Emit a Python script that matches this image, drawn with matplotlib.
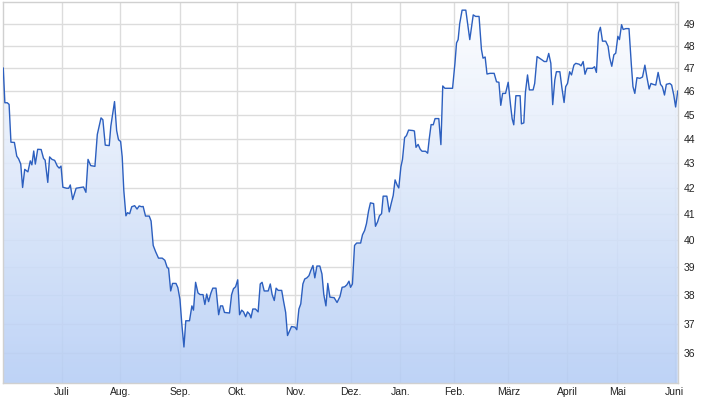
import numpy as np
import matplotlib
matplotlib.use("Agg")
from matplotlib import pyplot as plt
from matplotlib.colors import LinearSegmentedColormap
from matplotlib.ticker import NullLocator

plt.rcParams['font.family'] = ['Liberation Sans', 'DejaVu Sans']

# session number (trading days since start) and price
sessions = [
    0, 0.6, 1.5, 2.2, 2.9, 4.2, 5.1, 5.8, 6.6, 7.3,
    8.1, 9.3, 10.2, 10.8, 11.5, 12.1, 13.0, 14.3, 15.2, 15.8,
    16.8, 17.5, 18.4, 19.4, 20.4, 21.1, 21.8, 22.5, 23.9, 24.7,
    25.3, 26.2, 27.5, 29.7, 30.3, 31.2, 32.0, 33.0, 34.6, 35.5,
    36.9, 37.6, 38.5, 40.0, 40.6, 42.0, 42.8, 43.5, 44.3, 44.9,
    45.5, 46.3, 46.9, 47.7, 48.5, 49.6, 50.5, 51.3, 52.2, 52.8,
    53.7, 55.1, 55.8, 56.6, 57.5, 58.6, 60.0, 61.0, 61.9, 62.4,
    63.2, 63.9, 65.2, 65.9, 66.7, 67.4, 68.2, 68.9, 70.3, 71.2,
    71.8, 72.6, 73.5, 74.3, 75.4, 76.1, 76.8, 77.5, 78.4, 79.1,
    80.3, 81.3, 82.0, 82.8, 83.5, 85.4, 86.2, 86.9, 87.7, 88.5,
    89.2, 90.0, 90.7, 91.5, 92.2, 93.0, 93.5, 94.2, 95.2, 96.2,
    97.0, 97.7, 98.5, 100.0, 100.8, 101.5, 102.3, 103.0, 103.8, 105.1,
    105.8, 106.6, 107.3, 108.1, 108.8, 110.1, 110.8, 111.6, 112.3, 113.1,
    113.8, 114.6, 115.4, 116.1, 116.9, 117.6, 118.4, 119.5, 120.3, 121.0,
    121.8, 122.5, 123.3, 124.9, 126.0, 127.1, 127.9, 128.9, 129.7, 130.5,
    131.1, 131.8, 132.6, 133.4, 134.9, 135.6, 136.4, 137.1, 137.9, 138.6,
    139.8, 140.5, 141.3, 142.0, 142.8, 143.4, 144.8, 145.7, 146.4, 147.2,
    147.9, 148.7, 149.3, 150.1, 150.7, 151.5, 152.2, 153.0, 154.7, 155.2,
    155.8, 156.6, 157.4, 158.1, 159.4, 160.2, 160.8, 161.5, 162.3, 163.0,
    164.4, 165.2, 165.9, 166.7, 168.9, 169.6, 170.5, 171.1, 171.7, 172.3,
    173.2, 174.6, 176.1, 177.4, 178.3, 179.6, 180.5, 181.1, 181.9, 182.6,
    183.7, 185.3, 186.2, 187.1, 187.8, 188.5, 189.6, 190.6, 191.5, 192.1,
    192.7, 193.5, 195.1, 195.6, 196.5, 197.1, 197.9, 198.6, 200.0, 200.6,
    201.5, 203.4, 204.2, 205.1, 205.9, 206.7, 207.4, 208.2, 208.8, 210.1,
    210.9, 211.7, 212.3, 213.0, 213.8, 214.5, 215.4, 216.1, 217.4, 218.1,
    218.9, 219.6, 220.4, 222.4, 223.2, 223.9, 224.7, 225.4, 226.2, 227.4,
    228.3, 228.9, 229.7, 230.5, 231.2, 232.0, 232.6, 233.4, 234.0, 235.0,
    236.2, 237.1, 237.7, 238.4, 239.2, 240.3, 241.3, 242.2, 243.0, 243.8,
    244.5, 245.3, 246.3, 247.2, 248.1, 248.8, 249.6, 250.3, 251.6, 252.3,
    253.1, 253.8, 254.6,
]
prices = [
    47.0, 45.5, 45.5, 45.43, 43.85, 43.84, 43.28, 43.17, 42.96, 42.03,
    42.75, 42.65, 43.09, 42.93, 43.49, 42.96, 43.56, 43.55, 43.19, 43.12,
    42.23, 43.25, 43.15, 43.11, 42.88, 42.8, 42.88, 42.04, 42.0, 42.0,
    42.13, 41.56, 42.0, 42.04, 42.05, 41.84, 43.15, 42.9, 42.87, 44.17,
    44.86, 44.78, 43.73, 43.71, 44.51, 45.55, 44.33, 43.95, 43.88, 43.25,
    41.92, 40.93, 41.05, 41.01, 41.28, 41.32, 41.19, 41.31, 41.28, 41.29,
    40.92, 40.92, 40.73, 39.81, 39.58, 39.34, 39.34, 39.26, 38.99, 38.97,
    38.15, 38.42, 38.42, 38.27, 37.85, 36.99, 36.2, 37.1, 37.1, 37.62,
    37.47, 38.46, 38.08, 38.02, 38.02, 37.67, 38.04, 37.77, 38.08, 38.25,
    38.25, 37.31, 37.62, 37.62, 37.39, 37.37, 38.02, 38.23, 38.3, 38.55,
    37.31, 37.47, 37.41, 37.24, 37.41, 37.33, 37.2, 37.51, 37.51, 37.41,
    38.4, 38.46, 38.15, 38.15, 38.4, 38.02, 37.81, 38.25, 38.17, 38.17,
    37.79, 37.39, 36.59, 36.76, 36.9, 36.88, 36.79, 37.51, 37.69, 38.4,
    38.58, 38.62, 38.7, 38.89, 39.07, 38.62, 39.05, 39.05, 38.76, 38.02,
    37.62, 38.42, 37.93, 37.91, 37.74, 37.95, 38.28, 38.3, 38.37, 38.5,
    38.28, 38.4, 39.81, 39.9, 39.9, 40.21, 40.37, 40.63, 41.12, 41.43,
    41.4, 40.53, 40.7, 40.93, 41.01, 41.69, 41.69, 41.08, 41.39, 41.72,
    42.33, 42.12, 42.01, 42.85, 43.15, 44.04, 44.12, 44.35, 44.33, 44.31,
    43.64, 43.76, 43.56, 43.48, 43.48, 43.4, 43.99, 44.58, 44.57, 44.83,
    44.83, 43.75, 46.22, 46.12, 46.12, 46.12, 47.21, 48.12, 48.27, 49.0,
    49.62, 49.62, 48.27, 49.4, 49.33, 49.33, 47.83, 47.44, 47.49, 46.74,
    46.77, 46.77, 46.4, 46.38, 45.39, 45.9, 45.9, 46.38, 45.39, 44.82,
    44.57, 45.8, 45.8, 44.61, 44.65, 45.94, 46.7, 46.05, 46.05, 46.33,
    47.51, 47.36, 47.29, 47.29, 47.65, 47.21, 45.42, 46.48, 46.84, 46.84,
    46.12, 45.51, 46.19, 46.33, 46.84, 46.7, 47.13, 47.21, 47.17, 47.1,
    47.29, 46.73, 46.99, 46.99, 47.06, 46.81, 48.58, 48.83, 48.2, 48.2,
    47.97, 47.46, 47.08, 47.59, 47.66, 48.42, 48.27, 48.95, 48.73, 48.77,
    48.77, 47.13, 46.19, 45.9, 46.58, 46.55, 46.61, 47.13, 46.58, 46.09,
    46.33, 46.29, 46.26, 46.81, 46.29, 46.19, 45.83, 46.29, 46.33, 46.26,
    45.83, 45.32, 46.0,
]

# session where each month begins
month_pos = [22.15, 44.15, 66.8, 88.4, 110.2, 131.3, 149.9, 170.3, 190.7, 212.9, 231.7, 253.5]
month_labels = ['Juli', 'Aug.', 'Sep.', 'Okt.', 'Nov.', 'Dez.', 'Jan.', 'Feb.',
                'März', 'April', 'Mai', 'Juni']
y_ticks = list(range(36, 50))

fig = plt.figure(figsize=(7.2, 4.15), dpi=100)
ax = fig.add_axes([3/720, 1 - 383/415, 675/720, 381/415])
ax.set_yscale('log')
ax.set_ylim(35, 50)
ax.set_xlim(-0.1, 254.7)

ax.set_yticks(y_ticks)
ax.set_yticklabels([str(v) for v in y_ticks])
ax.yaxis.set_minor_locator(NullLocator())
ax.set_xticks(month_pos)
ax.set_xticklabels(month_labels)
ax.yaxis.tick_right()
ax.tick_params(length=0, labelsize=7.5, colors='#222222')
ax.tick_params(axis='y', pad=4)
ax.tick_params(axis='x', pad=3)

ax.grid(True, color='#dcdcdc', lw=1, zorder=0)
ax.set_axisbelow(True)
for s in ax.spines.values():
    s.set_color('#d0d0d0')
    s.set_linewidth(1)

# gradient area under the line
area = ax.fill_between(sessions, prices, 35, facecolor='none', edgecolor='none')
cmap = LinearSegmentedColormap.from_list('blu', ['#b5cdf5', '#ffffff'])
grad = np.linspace(0, 1, 256).reshape(-1, 1)
img = ax.imshow(grad, cmap=cmap, extent=[0, 1, 0, 1], transform=ax.transAxes,
                origin='lower', aspect='auto', alpha=0.88, zorder=1)
img.set_clip_path(area.get_paths()[0], ax.transData)

ax.plot(sessions, prices, color='#2c5fbf', lw=1.0, zorder=3)

fig.savefig('out.png', dpi=100)
